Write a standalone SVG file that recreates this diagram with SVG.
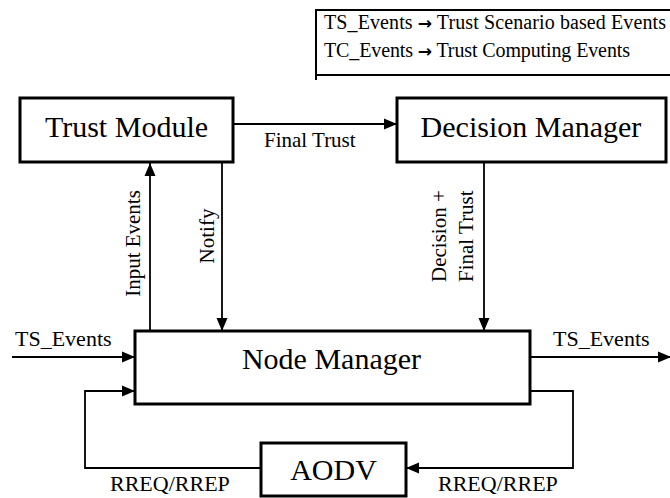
<svg xmlns="http://www.w3.org/2000/svg" width="670" height="498" viewBox="0 0 670 498">
<style>
.box{fill:#fff;stroke:#000;stroke-width:3}
.line{fill:none;stroke:#000;stroke-width:1.8}
.big{font-family:"Liberation Serif","Times New Roman",serif;font-size:30px;fill:#000}
.sm{font-family:"Liberation Serif","Times New Roman",serif;font-size:21px;fill:#000}
.lg{font-family:"Liberation Serif","Times New Roman",serif;font-size:20px;fill:#000}
.ar{font-family:"DejaVu Sans",sans-serif;font-weight:bold;font-size:17px}
</style>
<defs>
<marker id="arr" markerUnits="userSpaceOnUse" markerWidth="14" markerHeight="14" viewBox="0 0 14 14" refX="13" refY="7" orient="auto">
<path d="M0,1.5 L13,7 L0,12.5 Z" fill="#000"/>
</marker>
</defs>
<rect width="670" height="498" fill="#fff"/>
<g id="legend">
<path d="M672,10 H316 V80 M316,75 H672" fill="none" stroke="#000" stroke-width="2"/>
<text class="lg" x="324" y="29" textLength="342" lengthAdjust="spacing">TS_Events <tspan class="ar">→</tspan> Trust Scenario based Events</text>
<text class="lg" x="324" y="57" textLength="306" lengthAdjust="spacing">TC_Events <tspan class="ar">→</tspan> Trust Computing Events</text>
</g>
<g id="connectors">
<line class="line" x1="233" y1="124" x2="397" y2="124" marker-end="url(#arr)"/>
<line class="line" x1="150" y1="331" x2="150" y2="163" marker-end="url(#arr)"/>
<line class="line" x1="222" y1="163" x2="222" y2="331" marker-end="url(#arr)"/>
<line class="line" x1="484" y1="163" x2="484" y2="331" marker-end="url(#arr)"/>
<line class="line" x1="12" y1="357" x2="135" y2="357" marker-end="url(#arr)"/>
<line class="line" x1="530" y1="357" x2="671" y2="357" marker-end="url(#arr)"/>
<polyline class="line" points="261,468 85,468 85,391 135,391" marker-end="url(#arr)"/>
<polyline class="line" points="530,391 573,391 573,468 406,468" marker-end="url(#arr)"/>
<text class="sm" x="264" y="147">Final Trust</text>
<text class="sm" transform="translate(140,243.5) rotate(-90)" text-anchor="middle">Input Events</text>
<text class="sm" transform="translate(214,236) rotate(-90)" text-anchor="middle">Notify</text>
<text class="sm" transform="translate(446,282) rotate(-90)">Decision +</text>
<text class="sm" transform="translate(473,282) rotate(-90)">Final Trust</text>
<text class="sm" x="15" y="346" style="font-size:22px">TS_Events</text>
<text class="sm" x="553" y="346" style="font-size:22px">TS_Events</text>
<text class="sm" x="110" y="491" style="font-size:22px">RREQ/RREP</text>
<text class="sm" x="438" y="491" style="font-size:22px">RREQ/RREP</text>
</g>
<g id="trust-module">
<rect class="box" x="20" y="98" width="213" height="64"/>
<text class="big" x="126.5" y="137" text-anchor="middle">Trust Module</text>
</g>
<g id="decision-manager">
<rect class="box" x="397" y="98" width="269" height="64"/>
<text class="big" x="531" y="137" text-anchor="middle">Decision Manager</text>
</g>
<g id="node-manager">
<rect class="box" x="135" y="331" width="395" height="73"/>
<text class="big" x="331.5" y="369" text-anchor="middle">Node Manager</text>
</g>
<g id="aodv">
<rect class="box" x="261" y="443" width="145" height="53"/>
<text class="big" x="333.5" y="480" text-anchor="middle">AODV</text>
</g>
</svg>
